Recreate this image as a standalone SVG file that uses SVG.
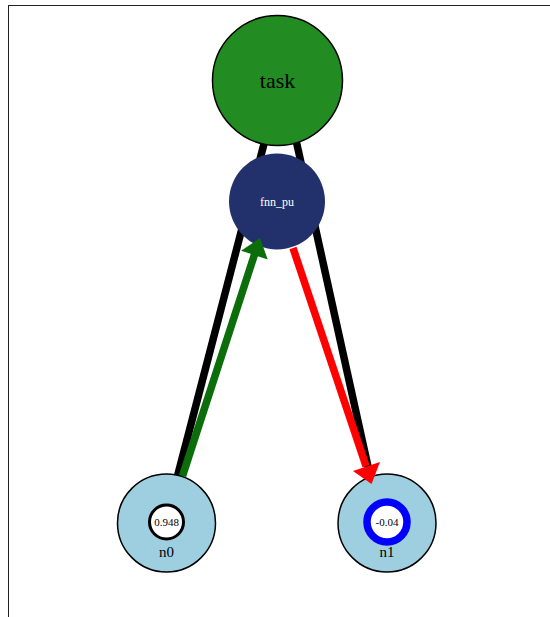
<svg xmlns="http://www.w3.org/2000/svg" width="550" height="617" viewBox="0 0 550 617">
<style>
.frame{fill:none;stroke:#222;stroke-width:1}
.blk{stroke:#000;stroke-width:7.5;fill:none}
.lbl{font-family:"Liberation Serif",serif;text-anchor:middle}
.leaf{fill:#9ecfe0;stroke:#000;stroke-width:1.5}
.g{stroke:#0b6e0b;stroke-width:7.5;fill:none}
.r{stroke:#ff0000;stroke-width:7.5;fill:none}
</style>
<rect class="frame" x="8.5" y="5.5" width="560" height="640"/>
<g id="connectors-back">
<line class="blk" x1="265" y1="140" x2="177" y2="478"/>
<line class="blk" x1="296" y1="140" x2="371" y2="480"/>
</g>
<g id="task">
<circle cx="277.5" cy="80.5" r="65" fill="#228b22" stroke="#000" stroke-width="1.5"/>
<text class="lbl" x="277.5" y="88" font-size="22">task</text>
</g>
<g id="fnn_pu">
<circle cx="277" cy="201.5" r="48" fill="#22316b"/>
<text class="lbl" x="277" y="205.5" font-size="12" fill="#fff">fnn_pu</text>
</g>
<g id="n0">
<circle class="leaf" cx="166.5" cy="523" r="49"/>
<circle cx="166.5" cy="522" r="17" fill="#fff" stroke="#000" stroke-width="3"/>
<text class="lbl" x="166.5" y="525.5" font-size="11">0.948</text>
<text class="lbl" x="166.5" y="557" font-size="15">n0</text>
</g>
<g id="n1">
<circle class="leaf" cx="387" cy="523" r="49"/>
<circle cx="387" cy="522" r="20" fill="#fff" stroke="#0000ff" stroke-width="7.5"/>
<text class="lbl" x="387" y="525.5" font-size="11">-0.04</text>
<text class="lbl" x="387" y="557" font-size="15">n1</text>
</g>
<g id="connectors">
<line class="g" x1="182.5" y1="476" x2="255" y2="253"/>
<polygon points="260,238 241.1,250.8 267.7,259.4" fill="#0b6e0b"/>
<line class="r" x1="293" y1="248" x2="366" y2="466"/>
<polygon points="371.5,484 380,462 353,471" fill="#ff0000"/>
</g>
</svg>
